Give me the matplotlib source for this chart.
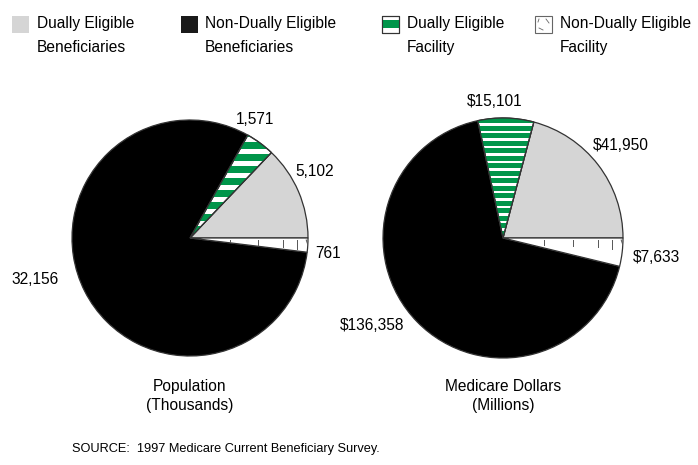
import matplotlib
matplotlib.use("Agg")
import matplotlib.pyplot as plt
from matplotlib.patches import Rectangle, Wedge

plt.rcParams['font.family'] = ['Liberation Sans', 'DejaVu Sans']

# ---- data ----
categories = ["Dually Eligible\nBeneficiaries", "Dually Eligible\nFacility",
              "Non-Dually Eligible\nBeneficiaries", "Non-Dually Eligible\nFacility"]
population = [5102, 1571, 32156, 761]            # thousands
dollars = [41950, 15101, 136358, 7633]           # millions
pop_labels = ["5,102", "1,571", "32,156", "761"]
dol_labels = ["$41,950", "$15,101", "$136,358", "$7,633"]
titles = ["Population\n(Thousands)", "Medicare Dollars\n(Millions)"]
source = "SOURCE:  1997 Medicare Current Beneficiary Survey."

GRAY = "#d5d5d5"
GREEN = "#00954a"
BLACK = "#000000"
WHITE = "#ffffff"
EDGE = "#333333"
colors = [GRAY, GREEN, BLACK, WHITE]

W, H = 698, 465
fig = plt.figure(figsize=(W / 100, H / 100), dpi=100)
ax = fig.add_axes([0, 0, 1, 1])

def py(y):
    return H - y

pies = [
    dict(vals=population, labels=pop_labels, center=(190, py(238)), r=118,
         lab_pos=[(315, 172), (255, 120), (35, 280), (328, 253)], title=titles[0],
         stripe=(12.0, 7.0, py(130))),
    dict(vals=dollars, labels=dol_labels, center=(503, py(238)), r=120,
         lab_pos=[(621, 145), (495, 102), (372, 326), (656, 257)], title=titles[1],
         stripe=(7.5, 5.0, py(126))),
]

FS = 11.2
for p in pies:
    wedges, _ = ax.pie(p["vals"], colors=[WHITE if c == GREEN else c for c in colors],
                       startangle=0, counterclock=True, center=p["center"], radius=p["r"],
                       wedgeprops=dict(edgecolor=EDGE, linewidth=0.9), frame=False)
    cx, cy = p["center"]
    r = p["r"]
    period, gh, ytop = p["stripe"]
    # green stripes in the dually-eligible facility wedge
    gw = wedges[1]
    y = ytop + period
    while y > cy - r:
        rect = Rectangle((cx - r, y - gh), 2 * r, gh, facecolor=GREEN, edgecolor='none', zorder=2)
        ax.add_patch(rect)
        rect.set_clip_path(gw)
        y -= period
    ax.add_patch(Wedge((cx, cy), r, gw.theta1, gw.theta2, facecolor='none',
                       edgecolor=EDGE, linewidth=0.9, zorder=3))
    # small strokes in the non-dually facility wedge
    ww = wedges[3]
    for fr, ln in [(0.34, 5), (0.58, 6), (0.79, 7), (0.91, 9), (0.985, 9)]:
        x0 = cx + fr * r
        ln_ = plt.Line2D([x0, x0 + (3 if fr > 0.95 else 0)], [cy - 2, cy - 2 - ln],
                         color="#555555", linewidth=0.7, zorder=3)
        ax.add_line(ln_)
        ln_.set_clip_path(ww)
    for lab, (lx, ly) in zip(p["labels"], p["lab_pos"]):
        ax.text(lx, py(ly), lab, ha='center', va='center', fontsize=FS, color='black')
    ax.text(cx, py(396), p["title"], ha='center', va='center', fontsize=FS,
            linespacing=1.3)

# legend
leg_patch_x = [12, 181, 382, 535]
leg_text_x = [37, 205, 407, 560]
order = [0, 2, 1, 3]
for i, k in enumerate(order):
    x0 = leg_patch_x[i]
    y0 = py(33)
    if k == 0:
        ax.add_patch(Rectangle((x0, y0), 17, 17, facecolor=GRAY, edgecolor='none'))
    elif k == 2:
        ax.add_patch(Rectangle((x0, y0), 17, 17, facecolor="#1a1a1a", edgecolor='none'))
    elif k == 1:
        ax.add_patch(Rectangle((x0, y0), 17, 17, facecolor=WHITE, edgecolor=EDGE, linewidth=0.8))
        ax.add_patch(Rectangle((x0, y0 + 5), 17, 8, facecolor=GREEN, edgecolor='none'))
        ax.add_patch(Rectangle((x0, y0), 17, 17, facecolor='none', edgecolor=EDGE, linewidth=0.8))
    else:
        ax.add_patch(Rectangle((x0, y0), 17, 17, facecolor=WHITE, edgecolor="#666666", linewidth=0.8))
        ax.add_line(plt.Line2D([x0 + 4, x0 + 3], [y0 + 14, y0 + 11], color="#666666", lw=0.6))
        ax.add_line(plt.Line2D([x0 + 11, x0 + 14], [y0 + 14, y0 + 10], color="#666666", lw=0.6))
        ax.add_line(plt.Line2D([x0 + 4, x0 + 8], [y0 + 5, y0 + 3], color="#666666", lw=0.6))
    ax.text(leg_text_x[i], py(35.5), categories[k], ha='left', va='center', fontsize=FS,
            linespacing=1.75)

ax.text(72, py(449), source, ha='left', va='center', fontsize=9.2)

ax.set_xlim(0, W)
ax.set_ylim(0, H)
ax.set_aspect('auto')
ax.axis('off')
fig.savefig("out.png", dpi=100)
